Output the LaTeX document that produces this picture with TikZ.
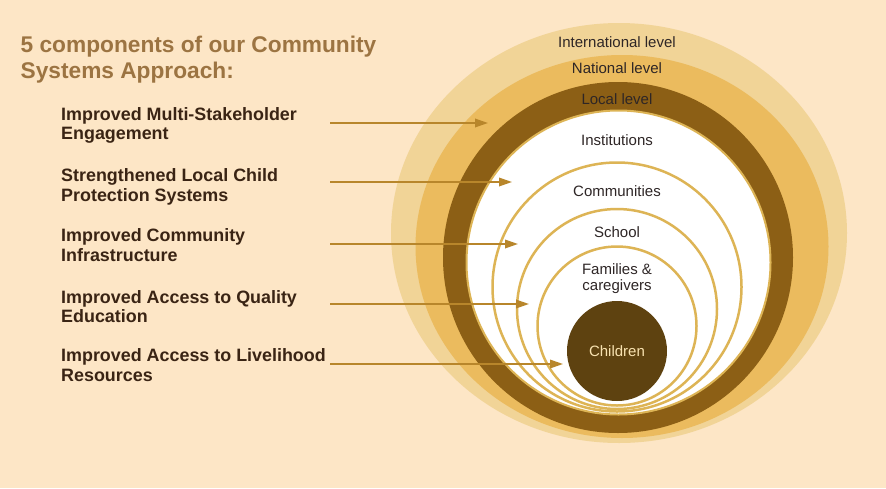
\documentclass[tikz,border=0pt]{standalone}
\usepackage{fontspec}
\setmainfont{Liberation Sans}
\usetikzlibrary{arrows.meta}
\definecolor{bgc}{HTML}{FDE6C6}
\definecolor{intlc}{HTML}{F1D497}
\definecolor{natc}{HTML}{EBBB5E}
\definecolor{locc}{HTML}{8C5F15}
\definecolor{childc}{HTML}{5E4210}
\definecolor{ringc}{HTML}{DDB455}
\definecolor{arrowc}{HTML}{B8862B}
\definecolor{titlec}{HTML}{9C7442}
\definecolor{itemc}{HTML}{3A2414}
\definecolor{labelc}{HTML}{2E2626}
\definecolor{childtxt}{HTML}{F8E2B0}
\tikzset{
  titletext/.style={anchor=base west, inner sep=0pt, text=titlec, font=\fontsize{22.7}{26}\selectfont\bfseries},
  itemtext/.style={anchor=base west, inner sep=0pt, text=itemc, font=\fontsize{17.9}{19.5}\selectfont\bfseries},
  lvltext/.style={anchor=base, inner sep=0pt, text=labelc, font=\fontsize{15}{17}\selectfont},
  thinring/.style={draw=ringc, line width=2.5pt},
  conn/.style={draw=arrowc, line width=1.8pt, -{Triangle[length=13pt,width=8.5pt]}}
}
\begin{document}
\begin{tikzpicture}[x=1pt,y=-1pt]
\fill[bgc] (0,0) rectangle (886,488);
\useasboundingbox (0,0) rectangle (886,488);
% rings
\fill[intlc] (619,233) ellipse [x radius=228, y radius=210];
\fill[natc] (622,246.5) ellipse [x radius=206.5, y radius=191.5];
\fill[locc] (618,257.5) ellipse [x radius=175, y radius=175.5];
\filldraw[fill=white, draw=ringc, line width=2pt] (618.5,262.5) circle [radius=152];
\draw[thinring] (617,287) circle [radius=124.5];
\draw[thinring] (617,309) circle [radius=100];
\draw[thinring] (617,326) circle [radius=79.5];
\fill[childc] (617,351) circle [radius=50];
% level labels
\node[lvltext] (intl) at (617,47) {International level};
\node[lvltext] (nat) at (617,73.7) {National level};
\node[lvltext] (loc) at (617,104.4) {Local level};
\node[lvltext] (inst) at (617,145.4) {Institutions};
\node[lvltext] (comm) at (617,196) {Communities};
\node[lvltext] (school) at (617,237) {School};
\node[lvltext] (fam1) at (617,274) {Families \&};
\node[lvltext] (fam2) at (617,290) {caregivers};
\node[lvltext, text=childtxt] (child) at (617,356.7) {Children};
% title
\node[titletext] (t1) at (20.5,52) {5 components of our Community};
\node[titletext] (t2) at (20.5,78.5) {Systems Approach:};
% items
\node[itemtext] (i1a) at (61,120) {Improved Multi-Stakeholder};
\node[itemtext] (i1b) at (61,139.5) {Engagement};
\node[itemtext] (i2a) at (61,181.7) {Strengthened Local Child};
\node[itemtext] (i2b) at (61,201.2) {Protection Systems};
\node[itemtext] (i3a) at (61,241.7) {Improved Community};
\node[itemtext] (i3b) at (61,261.2) {Infrastructure};
\node[itemtext] (i4a) at (61,303.3) {Improved Access to Quality};
\node[itemtext] (i4b) at (61,322.8) {Education};
\node[itemtext] (i5a) at (61,361.7) {Improved Access to Livelihood};
\node[itemtext] (i5b) at (61,381.2) {Resources};
% arrow coordinates
\coordinate (s1) at (330,123); \coordinate (e1) at (488,123);
\coordinate (s2) at (330,182); \coordinate (e2) at (512,182);
\coordinate (s3) at (330,244); \coordinate (e3) at (518,244);
\coordinate (s4) at (330,304); \coordinate (e4) at (529,304);
\coordinate (s5) at (330,364); \coordinate (e5) at (563,364);
\draw[conn] (s1) -- (e1);
\draw[conn] (s2) -- (e2);
\draw[conn] (s3) -- (e3);
\draw[conn] (s4) -- (e4);
\draw[conn] (s5) -- (e5);
\end{tikzpicture}
\end{document}
